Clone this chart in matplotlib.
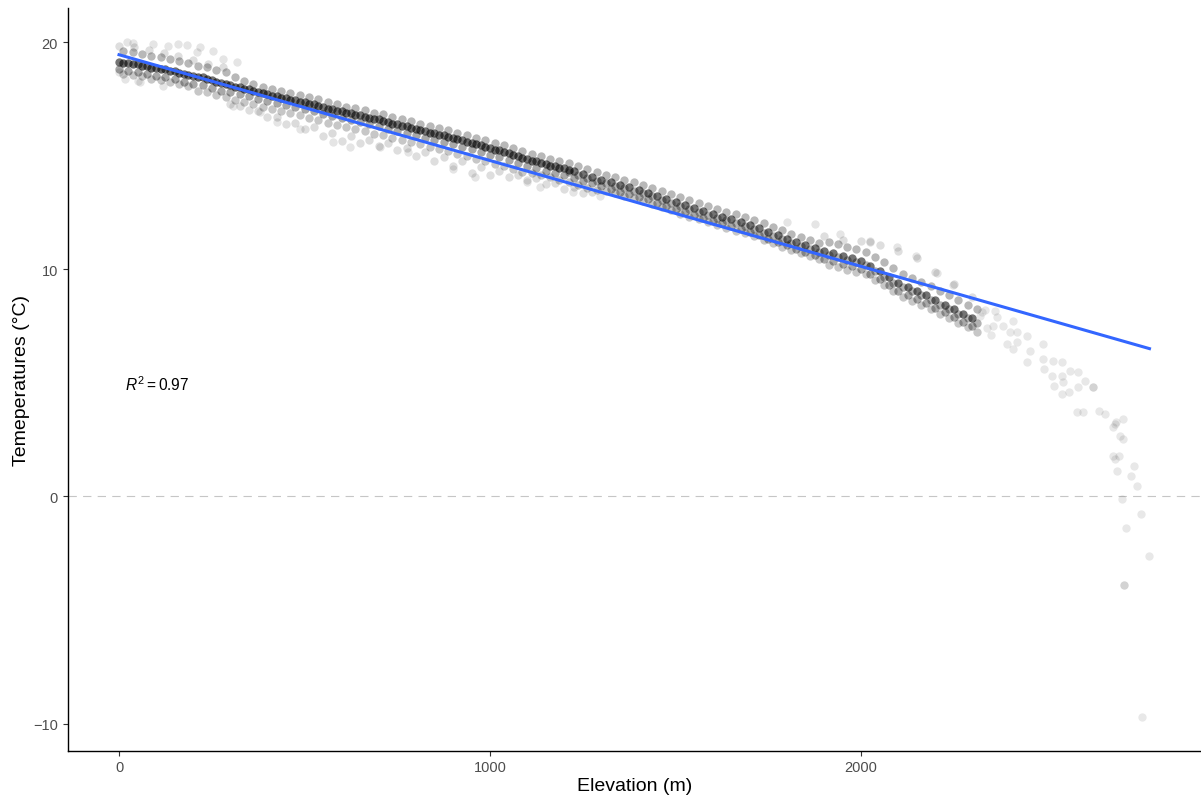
import numpy as np
import matplotlib
matplotlib.use("Agg")
import matplotlib.pyplot as plt

plt.rcParams["font.family"] = ["Liberation Sans", "DejaVu Sans"]
plt.rcParams["mathtext.fontset"] = "custom"
plt.rcParams["mathtext.rm"] = "Liberation Sans"
plt.rcParams["mathtext.it"] = "Liberation Sans:italic"
plt.rcParams["lines.scale_dashes"] = False

# elevation steps along the dense band (m)
elev_band = [0, 25, 50, 75, 100, 125, 150, 175, 200, 225, 250, 275, 300, 325, 350, 375,
             400, 425, 450, 475, 500, 525, 550, 575, 600, 625, 650, 675, 700, 725, 750, 775,
             800, 825, 850, 875, 900, 925, 950, 975, 1000, 1025, 1050, 1075, 1100, 1125, 1150,
             1175, 1200, 1225, 1250, 1275, 1300, 1325, 1350, 1375, 1400, 1425, 1450, 1475, 1500,
             1525, 1550, 1575, 1600, 1625, 1650, 1675, 1700, 1725, 1750, 1775, 1800, 1825, 1850,
             1875, 1900, 1925, 1950, 1975, 2000, 2025, 2050, 2075, 2100, 2125, 2150, 2175, 2200,
             2225, 2250, 2275, 2300]

# same band, sampled half way between the steps above
elev_half = [12, 37, 62, 87, 112, 137, 162, 187, 212, 237, 262, 287, 312, 337, 362, 387,
             412, 437, 462, 487, 512, 537, 562, 587, 612, 637, 662, 687, 712, 737, 762, 787,
             812, 837, 862, 887, 912, 937, 962, 987, 1012, 1037, 1062, 1087, 1112, 1137, 1162,
             1187, 1212, 1237, 1262, 1287, 1312, 1337, 1362, 1387, 1412, 1437, 1462, 1487, 1512,
             1537, 1562, 1587, 1612, 1637, 1662, 1687, 1712, 1737, 1762, 1787, 1812, 1837, 1862,
             1887, 1912, 1937, 1962, 1987, 2012, 2037, 2062, 2087, 2112, 2137, 2162, 2187, 2212,
             2237, 2262, 2287, 2312]

# darkest track of the band (elev_band)
temp_core = [19.15, 19.10, 19.05, 18.95, 18.88, 18.80, 18.72, 18.62, 18.52, 18.45, 18.33, 18.22,
             18.12, 18.02, 17.92, 17.82, 17.72, 17.62, 17.55, 17.45, 17.36, 17.26, 17.15, 17.05,
             16.95, 16.87, 16.78, 16.68, 16.60, 16.50, 16.40, 16.30, 16.20, 16.10, 16.00, 15.90,
             15.80, 15.70, 15.58, 15.47, 15.35, 15.25, 15.12, 14.98, 14.85, 14.75, 14.65, 14.55,
             14.45, 14.32, 14.20, 14.08, 13.95, 13.85, 13.72, 13.62, 13.50, 13.38, 13.24, 13.10,
             12.95, 12.82, 12.70, 12.58, 12.45, 12.32, 12.20, 12.08, 11.95, 11.80, 11.65, 11.50,
             11.35, 11.20, 11.08, 10.95, 10.80, 10.70, 10.58, 10.48, 10.38, 10.15, 9.92, 9.65,
             9.40, 9.22, 9.05, 8.85, 8.65, 8.45, 8.25, 8.05, 7.85]

# dark sub-track of the low part (0-1200 m), on elev_half
temp_dense = [19.08, 19.02, 18.96, 18.88, 18.80, 18.72, 18.64, 18.55, 18.45, 18.36, 18.25, 18.15,
              18.04, 17.95, 17.85, 17.75, 17.65, 17.55, 17.47, 17.38, 17.28, 17.18, 17.08, 16.98,
              16.88, 16.80, 16.70, 16.60, 16.52, 16.42, 16.32, 16.22, 16.12, 16.02, 15.92, 15.82,
              15.72, 15.62, 15.50, 15.39, 15.27, 15.17, 15.04, 14.90, 14.77, 14.67, 14.57, 14.47,
              14.37]

# dark sub-track of the high part (1212-2312 m), on elev_half
temp_dense_hi = [14.28, 14.16, 14.04, 13.91, 13.80, 13.68, 13.57, 13.46, 13.34, 13.21, 13.07,
                 12.92, 12.78, 12.66, 12.54, 12.41, 12.28, 12.16, 12.04, 11.91, 11.77, 11.62,
                 11.47, 11.32, 11.17, 11.04, 10.91, 10.77, 10.65, 10.54, 10.43, 10.33, 10.17,
                 9.93, 9.68, 9.42, 9.21, 9.03, 8.85, 8.65, 8.45, 8.25, 8.05, 7.85, 7.65]

# on elev_half
temp_upper = [19.60, 19.56, 19.50, 19.40, 19.33, 19.25, 19.17, 19.07, 18.97, 18.90, 18.78, 18.67,
              18.47, 18.30, 18.14, 18.04, 17.94, 17.84, 17.77, 17.67, 17.58, 17.48, 17.37, 17.27,
              17.17, 17.09, 17.00, 16.90, 16.82, 16.72, 16.62, 16.52, 16.42, 16.32, 16.22, 16.12,
              16.02, 15.92, 15.80, 15.69, 15.57, 15.47, 15.34, 15.20, 15.07, 14.97, 14.87, 14.77,
              14.67, 14.54, 14.42, 14.30, 14.17, 14.07, 13.94, 13.84, 13.72, 13.60, 13.46, 13.32,
              13.17, 13.04, 12.92, 12.80, 12.67, 12.54, 12.42, 12.30, 12.17, 12.02, 11.87, 11.72,
              11.57, 11.42, 11.30, 11.17, 11.20, 11.10, 10.98, 10.88, 10.78, 10.55, 10.32, 10.05,
              9.80, 9.62, 9.45, 9.25, 9.05, 8.85, 8.65, 8.45, 8.25]

# on elev_band
temp_lower1 = [18.80, 18.75, 18.70, 18.60, 18.53, 18.45, 18.37, 18.27, 18.17, 18.10, 17.98, 17.87,
               17.82, 17.72, 17.62, 17.52, 17.42, 17.32, 17.25, 17.15, 17.06, 16.96, 16.85, 16.75,
               16.65, 16.57, 16.48, 16.38, 16.30, 16.20, 16.10, 16.00, 15.90, 15.80, 15.70, 15.60,
               15.50, 15.40, 15.28, 15.17, 15.05, 14.95, 14.82, 14.68, 14.55, 14.45, 14.35, 14.25,
               14.15, 14.02, 13.90, 13.78, 13.65, 13.55, 13.42, 13.32, 13.20, 13.08, 12.94, 12.80,
               12.65, 12.52, 12.40, 12.28, 12.15, 12.02, 11.90, 11.78, 11.65, 11.50, 11.35, 11.20,
               11.05, 10.90, 10.78, 10.65, 10.45, 10.35, 10.23, 10.13, 10.03, 9.80, 9.57, 9.30,
               9.05, 8.87, 8.70, 8.50, 8.30, 8.10, 7.90, 7.70, 7.50]

# on elev_half
temp_lower2 = [18.60, 18.55, 18.50, 18.40, 18.33, 18.25, 18.17, 18.07, 17.87, 17.80, 17.68, 17.57,
               17.47, 17.37, 17.27, 17.17, 17.07, 16.97, 16.90, 16.80, 16.66, 16.56, 16.45, 16.35,
               16.25, 16.17, 16.08, 15.98, 15.90, 15.80, 15.70, 15.60, 15.50, 15.40, 15.30, 15.20,
               15.10, 15.00, 14.88, 14.77, 14.65, 14.55, 14.42, 14.28, 14.25, 14.15, 14.05, 13.95,
               13.85, 13.72, 13.60, 13.48, 13.45, 13.35, 13.22, 13.12, 13.00, 12.88, 12.74, 12.60,
               12.45, 12.32, 12.20, 12.08, 11.95, 11.82, 11.70, 11.58, 11.45, 11.30, 11.15, 11.00,
               10.85, 10.70, 10.58, 10.45, 10.20, 10.10, 9.98, 9.88, 9.78, 9.55, 9.32, 9.05,
               8.80, 8.62, 8.45, 8.25, 8.05, 7.85, 7.65, 7.45, 7.25]

# lighter spread below the band, 300-1300 m
elev_lower_mid = [325, 375, 425, 475, 525, 575, 625, 675, 725, 775, 825, 875, 925, 975, 1025,
                  1075, 1125, 1175, 1225, 1275]
temp_lower_mid = [17.20, 16.95, 16.70, 16.45, 16.25, 16.00, 15.85, 15.70, 15.55, 15.35, 15.15,
                  14.95, 14.75, 14.50, 14.35, 14.15, 14.00, 13.80, 13.62, 13.42]

elev_lower3 = [300, 350, 400, 450, 500, 550, 600, 650, 700, 750, 800, 850, 900, 950, 1000,
               1050, 1100, 1150, 1200, 1250]
temp_lower3 = [17.30, 17.00, 16.70, 16.40, 16.20, 15.85, 15.65, 15.55, 15.45, 15.25, 15.00, 14.75,
               14.55, 14.25, 14.15, 14.05, 13.95, 13.75, 13.55, 13.35]

elev_upper2 = [0, 40, 80, 120, 160, 200, 240, 280, 1900, 1950, 2000, 2025, 2050, 2100, 2150,
               2200, 2250, 2300]
temp_upper2 = [19.85, 19.77, 19.65, 19.52, 19.40, 19.22, 19.05, 18.90, 11.45, 11.30, 11.25, 11.20,
               11.05, 10.80, 10.50, 9.90, 9.35, 8.80]

# loose single points around the band
elev_scatter = [0, 16, 22, 38, 51, 57, 92, 119, 132, 159, 183, 210, 218, 253, 280, 307, 318, 380,
                426, 488, 576, 622, 703, 778, 900, 959, 1099, 1134, 1223, 1296, 1800, 1875, 1942,
                2023, 2096, 2149, 2204, 2247]
temp_scatter = [18.70, 18.40, 20.02, 19.97, 18.30, 18.26, 19.93, 18.08, 19.84, 19.93, 19.89, 19.58,
                19.80, 19.62, 19.27, 17.20, 19.14, 16.94, 16.50, 16.19, 15.62, 15.40, 15.40, 15.18,
                14.43, 14.08, 13.86, 13.64, 13.42, 13.24, 12.10, 12.01, 11.57, 11.26, 11.00, 10.60,
                9.85, 9.33]

# high elevation tail
elev_tail = [2320, 2327, 2335, 2340, 2350, 2354, 2360, 2365, 2381, 2392, 2400, 2408, 2408, 2419,
             2419, 2446, 2446, 2454, 2489, 2489, 2494, 2513, 2516, 2521, 2540, 2540, 2540, 2543,
             2559, 2562, 2584, 2584, 2602, 2624, 2624, 2581, 2597, 2640, 2656, 2705, 2683, 2686,
             2678, 2697, 2705, 2678, 2694, 2683, 2734, 2689, 2727, 2743, 2702, 2753, 2713, 2777,
             2707, 2707, 2756]
temp_tail = [7.95, 8.14, 8.20, 7.40, 7.10, 7.52, 8.18, 7.92, 7.52, 6.73, 7.26, 7.74, 6.51, 7.26,
             6.82, 7.08, 5.94, 6.42, 6.73, 6.07, 5.63, 5.32, 5.98, 4.88, 5.94, 5.32, 4.49, 5.06,
             4.62, 5.54, 5.50, 4.84, 5.10, 4.84, 4.84, 3.74, 3.70, 3.78, 3.65, 3.43, 3.21, 3.26,
             3.08, 2.68, 2.51, 1.80, 1.80, 1.63, 1.36, 1.14, 0.88, 0.48, -0.09, -0.79, -1.41, -2.60,
             -3.92, -3.92, -9.72]

# linear fit shown on the chart
fit_intercept = 19.45
fit_slope = -0.00466
r_squared = 0.97


def main():
    fig = plt.figure(figsize=(12.01, 8.03), dpi=100)
    ax = fig.add_axes([67.5 / 1201, 51 / 803, 1 - 67.5 / 1201, (752 - 9) / 803])

    layers = [
        (elev_scatter, temp_scatter, 0.10),
        (elev_tail, temp_tail, 0.09),
        (elev_upper2, temp_upper2, 0.13),
        (elev_lower3, temp_lower3, 0.13),
        (elev_lower_mid, temp_lower_mid, 0.14),
        (elev_half, temp_lower2, 0.22),
        (elev_band, temp_lower1, 0.34),
        (elev_half, temp_upper, 0.28),
        (elev_band, temp_core, 0.55),
        (elev_half[:len(temp_dense)], temp_dense, 0.60),
        (elev_half[len(temp_dense) - 1:], temp_dense_hi, 0.30),
    ]
    all_x, all_y = [], []
    for xs, ys, a in layers:
        ax.scatter(xs, ys, s=36, c="black", alpha=a, linewidths=0, zorder=2)
        all_x += list(xs)
        all_y += list(ys)

    ax.axhline(0, color="#C6C6C6", lw=0.8, ls=(0, (6, 4.5)), zorder=1)

    xfit = np.array([min(all_x), max(all_x)])
    ax.plot(xfit, fit_intercept + fit_slope * xfit, color="#3366FF", lw=2.2, zorder=3)

    ax.text(15, 4.95, r"$\mathit{R}^{2} = %.2f$" % r_squared, fontsize=11.2,
            ha="left", va="center")

    xr = max(all_x) - min(all_x)
    yr = max(all_y) - min(all_y)
    ax.set_xlim(min(all_x) - 0.05 * xr, max(all_x) + 0.05 * xr)
    ax.set_ylim(min(all_y) - 0.05 * yr, max(all_y) + 0.05 * yr)
    ax.set_xticks([0, 1000, 2000])
    ax.set_yticks([-10, 0, 10, 20])

    for side in ["top", "right"]:
        ax.spines[side].set_visible(False)
    for side in ["left", "bottom"]:
        ax.spines[side].set_linewidth(1.0)
        ax.spines[side].set_color("black")
    ax.tick_params(length=3.8, width=0.8, color="#333333", labelsize=10.5,
                   labelcolor="#4D4D4D", pad=3)

    ax.set_xlabel("Elevation (m)", fontsize=14, labelpad=2)
    ax.set_ylabel("Temeperatures (°C)", fontsize=14, labelpad=2)

    fig.savefig("out.png", dpi=100)


if __name__ == "__main__":
    main()
